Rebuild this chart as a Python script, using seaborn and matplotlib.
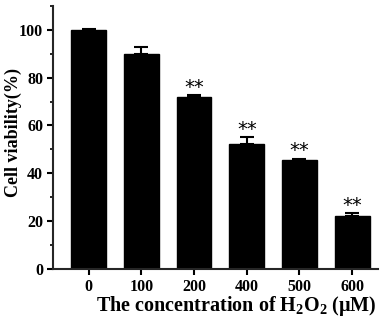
import pandas as pd
import matplotlib.pyplot as plt
import seaborn as sns
from matplotlib.ticker import MultipleLocator

# values
concentrations = ['0', '100', '200', '400', '500', '600']
viability = [100.0, 90.0, 72.0, 52.3, 45.6, 22.0]
sem = [0.6, 2.9, 0.7, 2.8, 0.5, 1.3]
marks = ['', '', '**', '**', '**', '**']

df = pd.DataFrame({'conc': concentrations, 'viability': viability})

sns.set_style('ticks')
plt.rcParams['font.family'] = ['Liberation Serif', 'DejaVu Serif']
plt.rcParams['text.color'] = 'black'
plt.rcParams['axes.labelcolor'] = 'black'
plt.rcParams['xtick.color'] = 'black'
plt.rcParams['ytick.color'] = 'black'
plt.rcParams['mathtext.fontset'] = 'custom'
plt.rcParams['mathtext.rm'] = 'Liberation Serif:bold'
plt.rcParams['mathtext.it'] = 'Liberation Serif:bold'
plt.rcParams['mathtext.bf'] = 'Liberation Serif:bold'

fig = plt.figure(figsize=(3.83, 3.2), dpi=100)
ax = fig.add_axes([0.138, 0.160, 0.849, 0.821])

sns.barplot(data=df, x='conc', y='viability', color='black', width=0.66,
            errorbar=None, edgecolor='black', ax=ax)

# one-sided error bars, upward only
xpos = range(len(concentrations))
ax.errorbar(xpos, viability, yerr=[[0] * len(sem), sem], fmt='none',
            ecolor='black', elinewidth=1.5, capsize=5, capthick=1.5)

for x, v, e, m in zip(xpos, viability, sem, marks):
    if m:
        ax.annotate(m, (x, v + e), xytext=(0, -1), textcoords='offset points',
                    ha='center', va='bottom', fontsize=14, color='black',
                    family='DejaVu Sans')

ax.set_ylim(0, 110)
ax.set_xlim(-0.68, 5.49)
ax.set_yticks([0, 20, 40, 60, 80, 100])
ax.yaxis.set_minor_locator(MultipleLocator(10))
ax.tick_params(axis='both', which='major', direction='out', length=4, width=1.5,
               labelsize=11.5, pad=3)
ax.tick_params(axis='y', which='minor', direction='out', length=2.5, width=1.2)
for lab in ax.get_xticklabels() + ax.get_yticklabels():
    lab.set_fontweight('bold')

ax.set_xlabel('The concentration of H$_2$O$_2$ (\u03bcM)', fontsize=14.5,
              fontweight='bold')
ax.set_ylabel('Cell viability(%)', fontsize=13, fontweight='bold')
ax.xaxis.set_label_coords(0.565, -0.095)
ax.yaxis.set_label_coords(-0.095, 0.52)

sns.despine(ax=ax)
for s in ['left', 'bottom']:
    ax.spines[s].set_linewidth(1.5)

fig.savefig('out.png', dpi=100)
